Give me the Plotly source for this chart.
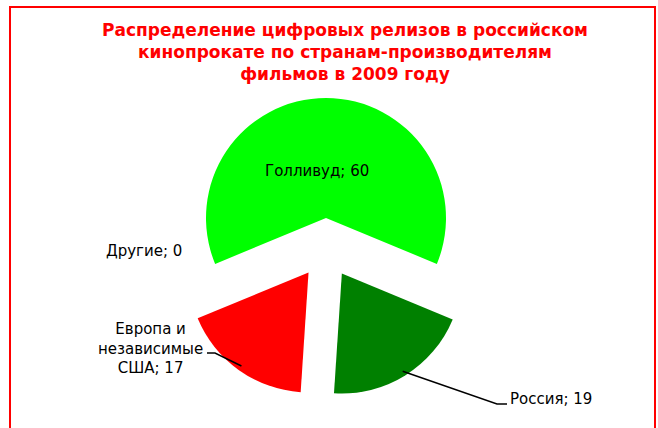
import math
import plotly.graph_objects as go

# ---- data ----
labels = ["Голливуд", "Россия", "Европа и независимые США", "Другие"]
values = [60, 19, 17, 0]
label_texts = ["Голливуд; 60", "Россия; 19", "Европа и<br>независимые<br>США; 17", "Другие; 0"]
colors = ["#00FF00", "#008000", "#FF0000", "#A0A0A0"]
title_text = ("Распределение цифровых релизов в российском<br>"
              "кинопрокате по странам-производителям<br>"
              "фильмов в 2009 году")

W, H = 658, 428
ML, MR, MT, MB = 0, 6, 98, 30
PW, PH = W - ML - MR, H - MT - MB
PULL = 0.25
total = sum(values)
rotation = -(values[0] / total) * 360 / 2  # center first slice at top

fig = go.Figure()
fig.add_trace(go.Pie(
    labels=labels, values=values, sort=False, direction="clockwise",
    rotation=rotation, pull=PULL, textinfo="none", showlegend=False,
    marker=dict(colors=colors, line=dict(width=0)),
    hovertemplate="%{label}; %{value}<extra></extra>",
))

# pie geometry (same as plotly's layout of the pie)
cx = ML + PW / 2
cy = MT + PH / 2
R = min(PW, PH) / (2 + 2 * PULL)

def px2paper(x, y):
    return (x - ML) / PW, (MT + PH - y) / PH

def slice_point(i, rfrac):
    start = sum(values[:i]) / total * 360 + rotation
    mid = math.radians(start + values[i] / total * 360 / 2)
    ox = cx + PULL * R * math.sin(mid)
    oy = cy - PULL * R * math.cos(mid)
    return ox + rfrac * R * math.sin(mid), oy - rfrac * R * math.cos(mid)

font_lbl = dict(family="DejaVu Sans", size=15, color="black")
annotations = []
shapes = []

# text positions of the labels (pixels)
lbl_pos = {0: (317, 171), 1: (551, 399), 2: (150, 348), 3: (144, 251)}
for i, (x, y) in lbl_pos.items():
    px, py = px2paper(x, y)
    annotations.append(dict(x=px, y=py, xref="paper", yref="paper", text=label_texts[i],
                            xanchor="center", yanchor="middle",
                            showarrow=False, font=font_lbl, align="center"))

# leader lines
leaders = {1: ((497, 404), (507, 404)), 2: ((215, 353), (207, 353))}
for i, (elbow, end) in leaders.items():
    tx, ty = slice_point(i, 0.96)
    pts = [px2paper(tx, ty), px2paper(*elbow), px2paper(*end)]
    path = "M {} {} L {} {} L {} {}".format(*[c for p in pts for c in p])
    shapes.append(dict(type="path", path=path, xref="paper", yref="paper",
                       line=dict(color="black", width=1.5)))

# chart border
bx0, by0 = px2paper(10, 7)
bx1, by1 = px2paper(655, 450)
shapes.append(dict(type="rect", xref="paper", yref="paper", x0=bx0, y0=by1, x1=bx1, y1=by0,
                   line=dict(color="#FF0000", width=2), fillcolor="rgba(0,0,0,0)"))

fig.update_layout(
    width=W, height=H,
    margin=dict(l=ML, r=MR, t=MT, b=MB),
    paper_bgcolor="white", plot_bgcolor="white",
    title=dict(text="<b>" + title_text + "</b>", x=345 / W, xanchor="center",
               y=1 - 36 / H, yanchor="top", yref="container",
               font=dict(family="DejaVu Sans", size=17, color="#FF0000")),
    annotations=annotations, shapes=shapes,
)
fig.write_html("out.html", config={"displayModeBar": False},
               post_script="document.body.style.margin='0';document.body.style.overflow='hidden';")
